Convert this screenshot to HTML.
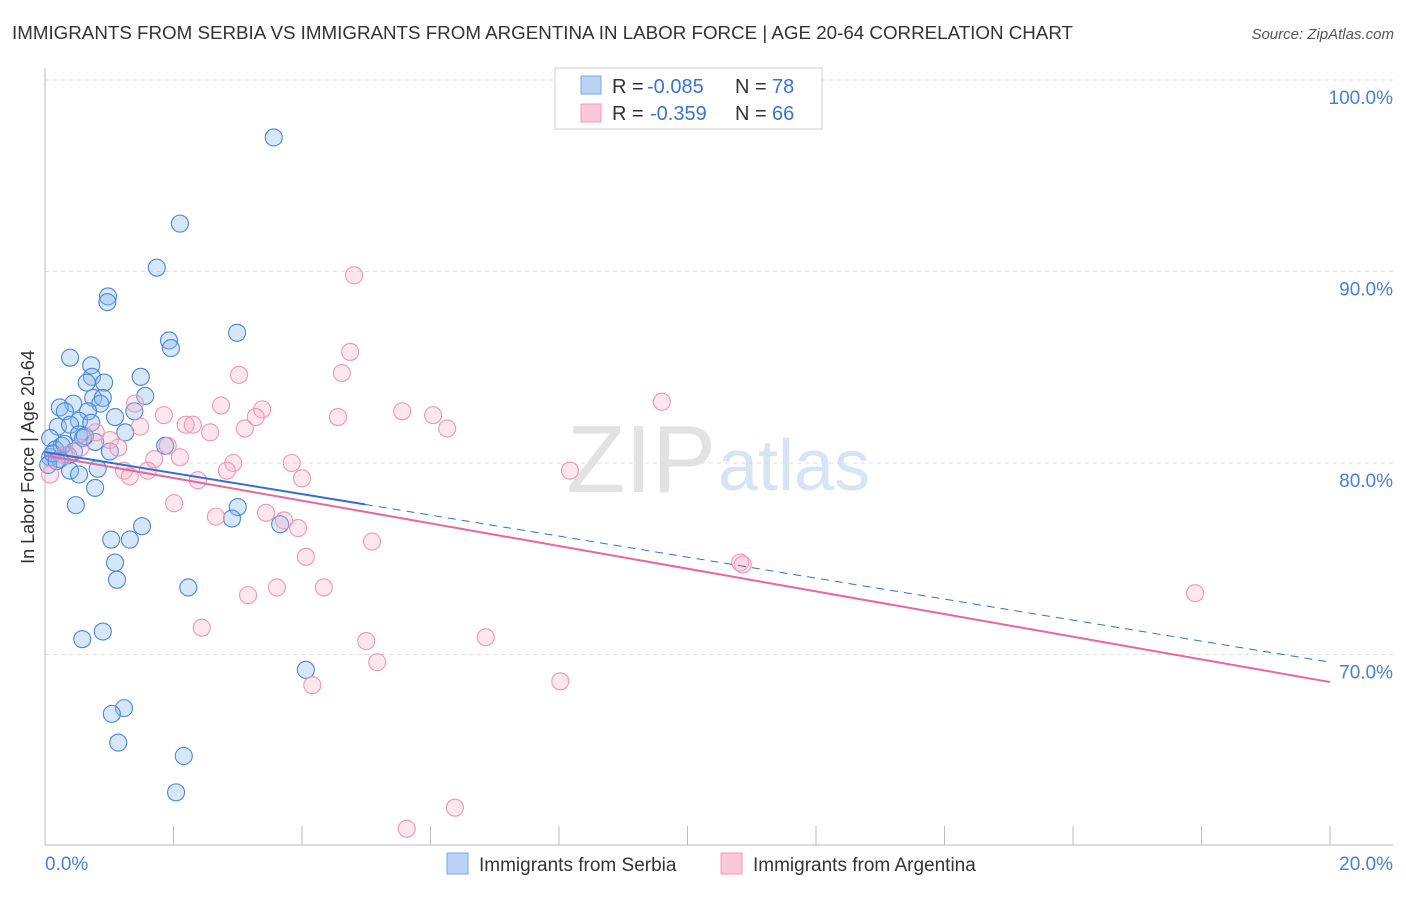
<!DOCTYPE html>
<html><head><meta charset="utf-8"><style>
body{margin:0;background:#fff;font-family:"Liberation Sans",sans-serif;}
svg text{font-family:"Liberation Sans",sans-serif;}
</style></head><body>
<svg id="chart" width="1406" height="892" xmlns="http://www.w3.org/2000/svg">
<text x="12" y="39" font-size="18" fill="#333" textLength="1061" lengthAdjust="spacingAndGlyphs">IMMIGRANTS FROM SERBIA VS IMMIGRANTS FROM ARGENTINA IN LABOR FORCE | AGE 20-64 CORRELATION CHART</text>
<text x="1394" y="39" font-size="15" fill="#555" text-anchor="end" font-style="italic">Source: ZipAtlas.com</text>
<text x="716" y="492" font-size="96" fill="#e2e2e2" text-anchor="end" font-family="Liberation Serif">ZIP</text>
<text x="718" y="490" font-size="72" fill="#d6e4f5">atlas</text>
<g id="grid"></g><g id="axes"></g><g id="pts"></g><g id="lines"></g>
<text transform="translate(34,457) rotate(-90)" font-size="18" fill="#333" text-anchor="middle">In Labor Force | Age 20-64</text>
<text x="45" y="870" font-size="19" fill="#4a7fd4">0.0%</text>
<text x="1393" y="870" font-size="19" fill="#4a7fd4" text-anchor="end">20.0%</text>
<g>
<rect x="555" y="68" width="267" height="61" fill="#fff" stroke="#ccc"/>
<rect x="581" y="76" width="20" height="18" fill="#b9d3f5" stroke="#7aa6e6"/>
<rect x="581" y="104" width="20" height="18" fill="#fbc8d8" stroke="#f19ab5"/>
<text x="612" y="93" font-size="20" fill="#333">R =</text>
<text x="647" y="93" font-size="20" fill="#3a73d0">-0.085</text>
<text x="735" y="93" font-size="20" fill="#333">N =</text>
<text x="772" y="93" font-size="20" fill="#3a73d0">78</text>
<text x="612" y="120" font-size="20" fill="#333">R =</text>
<text x="650" y="120" font-size="20" fill="#3a73d0">-0.359</text>
<text x="735" y="120" font-size="20" fill="#333">N =</text>
<text x="772" y="120" font-size="20" fill="#3a73d0">66</text>
</g>
<g>
<rect x="447" y="853" width="21" height="21" fill="#b9d3f5" stroke="#7aa6e6"/>
<text x="479" y="871" font-size="19" fill="#333">Immigrants from Serbia</text>
<rect x="721" y="853" width="21" height="21" fill="#fbc8d8" stroke="#f19ab5"/>
<text x="753" y="871" font-size="19" fill="#333">Immigrants from Argentina</text>
</g>
</svg>
<script>
const yTicks=[100,90,80,70];
const xTickVals=[0,2,4,6,8,10,12,14,16,18,20];
const serbiaX=[3.56,2.10,1.74,0.98,0.97,2.99,1.93,1.96,0.39,0.72,0.73,1.49,0.65,0.92,1.56,0.75,0.90,0.86,0.44,0.23,0.31,0.67,1.39,1.09,0.53,0.72,0.20,0.39,1.25,0.53,0.59,0.08,0.78,1.87,0.26,0.16,1.01,0.36,0.08,0.23,0.05,0.82,0.39,0.53,0.78,0.48,3.0,2.91,1.51,3.66,1.03,1.32,1.09,1.12,2.23,0.90,0.58,4.06,1.23,1.04,1.14,2.16,2.04,0.12,0.30,0.45,0.62,0.18];
const serbiaY=[97.0,92.5,90.2,88.7,88.4,86.8,86.4,86.0,85.5,85.1,84.5,84.5,84.2,84.2,83.5,83.4,83.4,83.1,83.1,82.9,82.7,82.7,82.7,82.4,82.2,82.1,81.9,82.0,81.6,81.5,81.3,81.3,81.1,80.9,80.9,80.7,80.6,80.4,80.3,80.2,79.9,79.7,79.6,79.4,78.7,77.8,77.7,77.1,76.7,76.8,76.0,76.0,74.8,73.9,73.5,71.2,70.8,69.2,67.2,66.9,65.4,64.7,62.8,80.5,81.0,80.6,81.4,80.1];
const argX=[4.81,4.75,4.62,3.02,9.60,2.74,3.38,5.56,6.04,3.28,4.56,1.85,1.40,6.26,2.19,2.30,1.48,3.11,2.57,1.01,0.79,1.14,1.91,2.10,1.70,2.93,3.84,2.83,1.23,1.60,8.17,1.32,4.0,2.38,0.08,2.01,3.44,2.66,3.72,3.94,5.09,4.06,10.82,10.86,3.61,3.16,4.34,17.9,2.44,6.86,5.0,5.17,4.16,8.02,6.38,5.63,0.3,0.55];
const argY=[89.8,85.8,84.7,84.6,83.2,83.0,82.8,82.7,82.5,82.4,82.4,82.5,83.1,81.8,82.0,82.0,81.9,81.8,81.6,81.2,81.6,80.8,80.9,80.3,80.2,80.0,80.0,79.6,79.6,79.6,79.6,79.3,79.2,79.1,79.4,77.9,77.4,77.2,77.0,76.6,75.9,75.1,74.8,74.7,73.5,73.1,73.5,73.2,71.4,70.9,70.7,69.6,68.4,68.6,62.0,60.9,80.4,80.8];
const serbiaTrend=[80.57,69.6];
const argTrend=[80.4,68.56];
const X=v=>45+v*64.25, Y=v=>80+(100-v)*19.15;
const NS="http://www.w3.org/2000/svg";
function mk(p,t,a){const e=document.createElementNS(NS,t);for(const k in a)e.setAttribute(k,a[k]);document.getElementById(p).appendChild(e);return e;}
yTicks.forEach(t=>{
 const l=mk('grid','line',{x1:45,x2:1393,y1:Y(t),y2:Y(t),stroke:'#ddd','stroke-dasharray':'4,4'});
 
 
 const tx=mk('grid','text',{x:1393,y:Y(t)+24,'font-size':19,fill:'#4a7fd4','text-anchor':'end'});
 tx.textContent=t.toFixed(1)+'%';
 
 
});
const ax=mk('axes','line',{x1:45,x2:45,y1:68,y2:845,stroke:'#bbb'});


const bx=mk('axes','line',{x1:45,x2:1393,y1:845,y2:845,stroke:'#bbb'});


xTickVals.forEach(v=>{const t=mk('axes','line',{x1:X(v),x2:X(v),y1:826,y2:845,stroke:'#bbb'});
 
 });
serbiaX.forEach((v,i)=>{const c=mk('pts','circle',{cx:X(v),cy:Y(serbiaY[i]),r:8.5,fill:'rgba(140,185,240,0.35)',stroke:'#4a86db','stroke-width':1.1});
 
 });
argX.forEach((v,i)=>{const c=mk('pts','circle',{cx:X(v),cy:Y(argY[i]),r:8.5,fill:'rgba(248,175,200,0.3)',stroke:'#f095b3','stroke-width':1.1});
 
 });
const sx=4.98, sy=serbiaTrend[0]+(serbiaTrend[1]-serbiaTrend[0])*sx/20;
const l1=mk('lines','line',{x1:X(0),y1:Y(serbiaTrend[0]),x2:X(sx),y2:Y(sy),stroke:'#2f6fd6','stroke-width':2});


const l2=mk('lines','line',{x1:X(sx),y1:Y(sy),x2:X(20),y2:Y(serbiaTrend[1]),stroke:'#2f6fd6','stroke-width':1,'stroke-dasharray':'8,6'});


const l3=mk('lines','line',{x1:X(0),y1:Y(argTrend[0]),x2:X(20),y2:Y(argTrend[1]),stroke:'#e8669a','stroke-width':2});


</script>
</body></html>
